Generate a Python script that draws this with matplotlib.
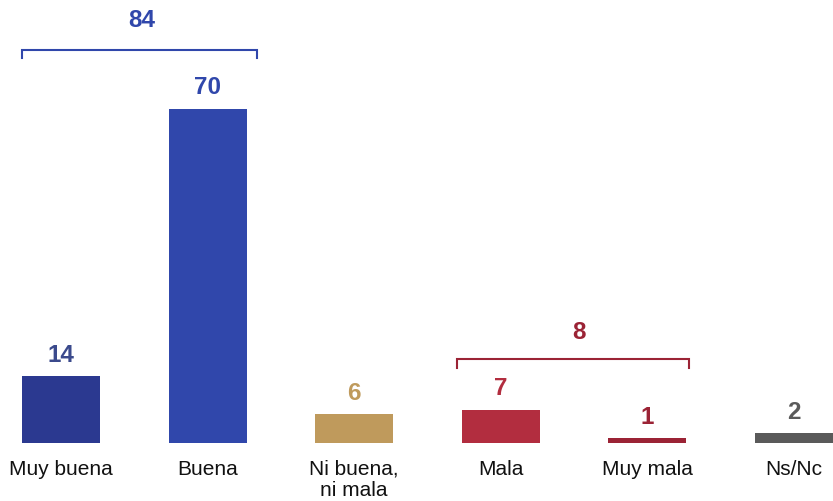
import matplotlib
matplotlib.use("Agg")
import matplotlib.pyplot as plt

categories = ["Muy buena", "Buena", "Ni buena,\nni mala", "Mala", "Muy mala", "Ns/Nc"]
values = [14, 70, 6, 7, 1, 2]
bar_colors = ["#2B3990", "#3047AB", "#BF9A5C", "#B22D3F", "#9B2335", "#5A5A5A"]
label_colors = ["#3B4A8C", "#3047AB", "#BF9A5C", "#B22D3F", "#9B2335", "#5A5A5A"]

group_labels = ["84", "8"]
group_colors = ["#3047AB", "#9B2335"]
group_spans = [(-0.266, 1.334), (2.70, 4.287)]
group_line_y = [82.4, 17.6]
group_tick = [1.7, 1.9]
group_text_x = [0.553, 3.532]
group_text_y = [88.7, 23.1]

plt.rcParams['font.family'] = ['Liberation Sans', 'DejaVu Sans']

fig = plt.figure(figsize=(8.33, 5.01), dpi=100)
ax = fig.add_axes([0, 58 / 501, 1, 443 / 501])
x = list(range(len(categories)))
bars = ax.bar(x, values, width=0.532, color=bar_colors)
ax.set_xlim(-0.416, 5.266)
ax.set_ylim(0, 92.9)

for xi, v, c in zip(x, values, label_colors):
    ax.annotate(str(v), (xi, v), xytext=(0, 7), textcoords="offset points",
                ha="center", va="bottom", fontsize=17.5, fontweight="bold", color=c)

for (x0, x1), ly, tk, tx, ty, lab, c in zip(group_spans, group_line_y, group_tick,
                                             group_text_x, group_text_y,
                                             group_labels, group_colors):
    ax.plot([x0, x0, x1, x1], [ly - tk, ly, ly, ly - tk], color=c, lw=1.5,
            solid_joinstyle="miter", clip_on=False)
    ax.text(tx, ty, lab, ha="center", va="center", fontsize=17.5,
            fontweight="bold", color=c)

ax.set_xticks(x)
ax.set_xticklabels(categories, fontsize=15, color="#111111", linespacing=1.15)
ax.tick_params(axis="x", length=0, pad=12)
ax.set_yticks([])
for s in ax.spines.values():
    s.set_visible(False)

fig.savefig("out.png", dpi=100)
